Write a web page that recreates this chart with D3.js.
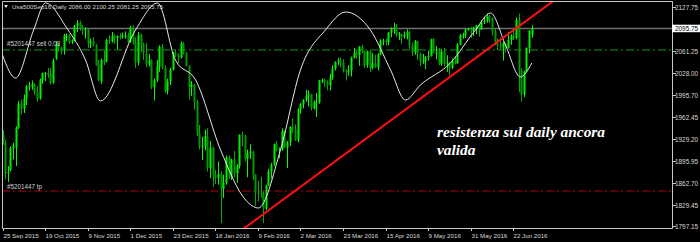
<!DOCTYPE html>
<html><head><meta charset="utf-8">
<script src="https://cdn.jsdelivr.net/npm/d3@7/dist/d3.min.js"></script>
<style>html,body{margin:0;padding:0;background:#000;overflow:hidden}svg{display:block}</style>
</head><body><svg id="c" width="700" height="242"></svg>
<script>
const opens=[1935,1924,1877,1882,1915,1916,1946,1982,1975,1990,2008,2008,2011,2000,1990,2018,2027,2028,2026,2014,2050,2070,2066,2062,2084,2084,2075,2077,2099,2104,2097,2094,2094,2073,2076,2070,2040,2016,2048,2046,2078,2076,2084,2081,2084,2083,2085,2085,2076,2097,2074,2044,2086,2072,2058,2042,2047,2007,2017,2038,2068,2036,2001,2016,2033,2059,2056,2052,2073,2058,2039,2007,2011,1985,1938,1917,1918,1933,1885,1916,1875,1870,1876,1854,1863,1901,1872,1898,1877,1888,1935,1934,1899,1907,1910,1875,1848,1847,1846,1824,1859,1880,1890,1921,1913,1913,1941,1916,1924,1947,1943,1927,1973,1981,1988,1994,1996,1975,1984,1984,2017,2018,2014,2010,2022,2035,2045,2047,2044,2031,2030,2032,2051,2059,2055,2068,2061,2040,2061,2036,2043,2037,2056,2077,2077,2075,2089,2095,2097,2086,2087,2083,2086,2090,2070,2060,2076,2058,2046,2046,2052,2054,2079,2059,2059,2042,2061,2042,2043,2036,2047,2043,2071,2085,2085,2094,2095,2092,2095,2100,2094,2105,2107,2114,2111,2091,2074,2070,2067,2073,2066,2078,2084,2081,2108,2032,1996,2031,2066,2086];
const highs=[1942,1928,1888,1918,1923,1948,1986,1988,1996,2010,2015,2017,2013,2008,2020,2029,2030,2036,2036,2050,2076,2073,2068,2087,2088,2087,2079,2101,2108,2107,2101,2097,2095,2080,2082,2072,2048,2050,2062,2080,2085,2090,2087,2085,2088,2089,2091,2089,2099,2100,2082,2090,2088,2074,2074,2057,2049,2020,2048,2070,2072,2040,2020,2036,2060,2064,2058,2076,2075,2060,2040,2016,2012,1988,1950,1932,1943,1945,1926,1917,1882,1895,1880,1875,1904,1904,1899,1911,1891,1936,1940,1935,1913,1921,1911,1876,1866,1872,1850,1860,1884,1893,1922,1926,1916,1945,1942,1926,1948,1960,1951,1975,1983,1989,2003,2002,1997,1987,1998,2018,2020,2020,2017,2027,2040,2046,2051,2051,2049,2034,2040,2053,2066,2062,2069,2071,2062,2062,2062,2058,2056,2058,2079,2080,2080,2090,2097,2104,2102,2090,2088,2091,2094,2092,2074,2078,2077,2059,2057,2054,2062,2080,2081,2069,2066,2064,2066,2055,2045,2050,2053,2073,2087,2089,2095,2096,2098,2098,2101,2102,2108,2113,2118,2116,2112,2095,2080,2081,2076,2074,2090,2087,2095,2112,2118,2035,2032,2067,2093,2100.25];
const lows=[1920,1868,1864,1880,1898,1888,1944,1966,1968,1980,2002,2003,1995,1985,1988,2012,2016,2021,2011,2012,2048,2061,2056,2056,2076,2072,2072,2076,2090,2092,2086,2080,2066,2066,2068,2039,2016,2012,2040,2044,2072,2074,2072,2064,2079,2080,2080,2074,2074,2071,2036,2040,2060,2048,2037,2038,2004,1987,2015,2030,2034,1998,1996,2010,2032,2052,2043,2050,2056,2038,1988,1994,1973,1933,1913,1897,1912,1880,1870,1857,1861,1860,1802,1840,1860,1869,1867,1871,1863,1884,1918,1895,1871,1899,1867,1828,1835,1840,1802,1822,1858,1869,1888,1910,1900,1911,1915,1885,1918,1938,1926,1924,1967,1975,1985,1978,1972,1973,1962,1982,2013,2007,2002,2002,2018,2032,2040,2037,2029,2017,2024,2023,2050,2050,2039,2058,2036,2036,2030,2034,2036,2032,2055,2070,2070,2070,2082,2087,2083,2078,2072,2080,2079,2065,2054,2056,2048,2039,2042,2034,2047,2053,2058,2049,2040,2039,2038,2030,2025,2034,2041,2042,2070,2080,2081,2092,2081,2084,2087,2083,2093,2102,2104,2103,2085,2070,2063,2064,2047,2059,2065,2071,2078,2079,2000,1985,1992,2029,2058,2081.25];
const closes=[1926,1877,1879,1915,1918,1946,1982,1974,1990,2008,2009,2012,1999,1989,2018,2028,2028,2025,2013,2047,2070,2066,2061,2085,2084,2074,2077,2099,2104,2097,2094,2094,2073,2076,2070,2040,2018,2048,2045,2078,2076,2084,2081,2084,2083,2085,2085,2075,2097,2074,2044,2086,2072,2058,2042,2047,2007,2017,2038,2068,2036,2001,2016,2033,2059,2056,2052,2073,2058,2039,2007,2011,1985,1938,1917,1918,1933,1885,1916,1875,1870,1876,1854,1863,1901,1872,1898,1877,1888,1935,1934,1899,1907,1910,1875,1848,1847,1846,1824,1859,1880,1890,1921,1913,1913,1941,1916,1924,1947,1943,1927,1973,1981,1988,1994,1996,1975,1984,1984,2017,2018,2014,2010,2022,2035,2045,2047,2044,2031,2030,2032,2051,2059,2055,2068,2061,2040,2061,2036,2043,2037,2056,2077,2077,2075,2089,2095,2097,2086,2087,2083,2086,2090,2070,2060,2076,2058,2046,2046,2052,2054,2079,2059,2059,2042,2061,2042,2043,2036,2047,2043,2071,2085,2085,2094,2095,2092,2095,2100,2094,2105,2107,2114,2111,2091,2074,2070,2067,2073,2066,2078,2084,2081,2108,2032,1996,2031,2066,2092,2095.75];

const dateLabels=["25 Sep 2015","19 Oct 2015","9 Nov 2015","1 Dec 2015","23 Dec 2015","18 Jan 2016","9 Feb 2016","2 Mar 2016","23 Mar 2016","15 Apr 2016","9 May 2016","31 May 2016","22 Jun 2016"];
const dateLabelBars=[0,16,32,48,64,80,96,112,128,144,160,176,192];
const priceTicks=[2127.75,2061.25,2028.00,1995.70,1962.45,1929.20,1895.95,1862.70,1829.45,1797.15];
const lastPrice=2095.75;
const header="Usa500Sep16,Daily  2086.00 2100.25 2081.25 2095.75";
const sellLevel=2063, sellLabel="#5201447 sell 0.08";
const tpLevel=1850.5, tpLabel="#5201447 tp";
const trendBars=[96,190], trendPrices=[1809.5,2086.5];
const curveBars=[0,4.9,11.7,16.2,24.4,31.2,36.8,50,58.3,65,72.6,82,91.4,96.2,104.5,112,121.4,129,138.3,145.9,151.5,157.1,168.4,177.8,183.5,189.1,194.7,199];
const curveVals=[2055.4,2020.7,2093.1,2133.8,2094.6,2047.9,1986.1,2093.1,2133.8,2047.9,2017.8,1912.3,1837,1824.9,1912.3,2032.8,2093.1,2120.2,2093.1,2032.8,1987.6,2010.2,2043.4,2093.1,2118.7,2070.5,2022.3,2043.4];
const noteLines=["resistenza sul daily ancora","valida"];

const svg=d3.select("#c");
const L=2,R=672,T=1,B=228;
const x=d3.scaleLinear().domain([0,192]).range([2.5,513.2]);
const y=d3.scaleLinear().domain([1797.15,2127.75]).range([226.4,7]);
svg.append("rect").attr("width",700).attr("height",242).attr("fill","#000");
svg.append("defs").append("clipPath").attr("id","clip").append("rect").attr("x",L).attr("y",T).attr("width",R-L).attr("height",B-T);
const g=svg.append("g").attr("clip-path","url(#clip)");

// order lines
g.append("line").attr("x1",L).attr("x2",R).attr("y1",y(sellLevel)).attr("y2",y(sellLevel)).attr("stroke","#0a7a0a").attr("stroke-width",1.3).attr("stroke-dasharray","8,3,2,3");
g.append("line").attr("x1",L).attr("x2",R).attr("y1",y(tpLevel)).attr("y2",y(tpLevel)).attr("stroke","#b00010").attr("stroke-width",1.1).attr("stroke-dasharray","8,3,2,3");
g.append("line").attr("x1",L).attr("x2",R).attr("y1",Math.round(y(lastPrice))+0.5).attr("y2",Math.round(y(lastPrice))+0.5).attr("stroke","#6e6e6e").attr("stroke-width",1.4);

// candles
const idx=d3.range(closes.length);
g.selectAll("line.w").data(idx).join("line").attr("class","w")
 .attr("x1",i=>Math.round(x(i))+0.5).attr("x2",i=>Math.round(x(i))+0.5)
 .attr("y1",i=>y(highs[i])).attr("y2",i=>y(lows[i]))
 .attr("stroke",i=>closes[i]>=opens[i]?"#00ff00":"#00b000").attr("stroke-width",1);
g.selectAll("rect.b").data(idx).join("rect").attr("class","b")
 .attr("x",i=>Math.round(x(i))-0.5).attr("width",2)
 .attr("y",i=>y(Math.max(opens[i],closes[i])))
 .attr("height",i=>Math.max(1,Math.abs(y(opens[i])-y(closes[i]))))
 .attr("fill",i=>closes[i]>=opens[i]?"#00ee00":"#009a00");

// white curve
g.append("path").datum(curveBars.map((b,i)=>[b,curveVals[i]]))
 .attr("d",d3.line().x(d=>x(d[0])).y(d=>y(d[1])).curve(d3.curveMonotoneX))
 .attr("fill","none").attr("stroke","#e8e8e8").attr("stroke-width",1);

// trendline
const tx0=x(trendBars[0]),ty0=y(trendPrices[0]),tx1=x(trendBars[1]),ty1=y(trendPrices[1]);
const sl=(ty1-ty0)/(tx1-tx0);
g.append("line").attr("x1",tx0-200).attr("y1",ty0-200*sl).attr("x2",tx1+200).attr("y2",ty1+200*sl)
 .attr("stroke","#ff1010").attr("stroke-width",2);

// order labels
const lf="Liberation Sans, Arial, sans-serif";
svg.append("text").attr("x",7).attr("y",y(sellLevel)-4).attr("fill","#d0d0d0").attr("font-family",lf).attr("font-size",6.3).text(sellLabel);
svg.append("text").attr("x",7).attr("y",y(tpLevel)-2).attr("fill","#d0d0d0").attr("font-family",lf).attr("font-size",6.3).text(tpLabel);

// frame
svg.append("path").attr("d",`M${L+0.5},${T+0.5}H${R+0.5}V${B+0.5}H${L+0.5}Z`).attr("fill","none").attr("stroke","#c8c8c8").attr("stroke-width",1);

// right axis
const ra=svg.append("g");
priceTicks.forEach(p=>{
  const yy=Math.round(y(p))+0.5;
  ra.append("line").attr("x1",R).attr("x2",R+4).attr("y1",yy).attr("y2",yy).attr("stroke","#c8c8c8");
  ra.append("text").attr("x",675).attr("y",yy+2.3).attr("fill","#d8d8d8").attr("font-family",lf).attr("font-size",6.4).text(p.toFixed(2));
});
const ly=Math.round(y(lastPrice))+0.5;
ra.append("rect").attr("x",R).attr("y",ly-3.8).attr("width",28).attr("height",7.5).attr("fill","#ffffff");
ra.append("text").attr("x",675).attr("y",ly+2.3).attr("fill","#000").attr("font-family",lf).attr("font-size",6.4).text(lastPrice.toFixed(2));

// bottom axis
dateLabels.forEach((d,k)=>{
  const xx=Math.round(x(dateLabelBars[k]))+0.5;
  svg.append("line").attr("x1",xx).attr("x2",xx).attr("y1",B).attr("y2",B+3).attr("stroke","#c8c8c8");
  svg.append("text").attr("x",xx).attr("y",238).attr("fill","#d8d8d8").attr("font-family",lf).attr("font-size",6.2).text(d);
});

// header
svg.append("path").attr("d","M4,5H8L6,8Z").attr("fill","#e0e0e0");
svg.append("text").attr("x",12).attr("y",9).attr("fill","#d8d8d8").attr("font-family",lf).attr("font-size",6.2).text(header);

// annotation
noteLines.forEach((t,k)=>{
  svg.append("text").attr("x",437).attr("y",137+k*18).attr("fill","#ffffff").attr("font-family","Liberation Serif, serif").attr("font-style","italic").attr("font-weight","bold").attr("font-size",15.4).text(t);
});
</script></body></html>
